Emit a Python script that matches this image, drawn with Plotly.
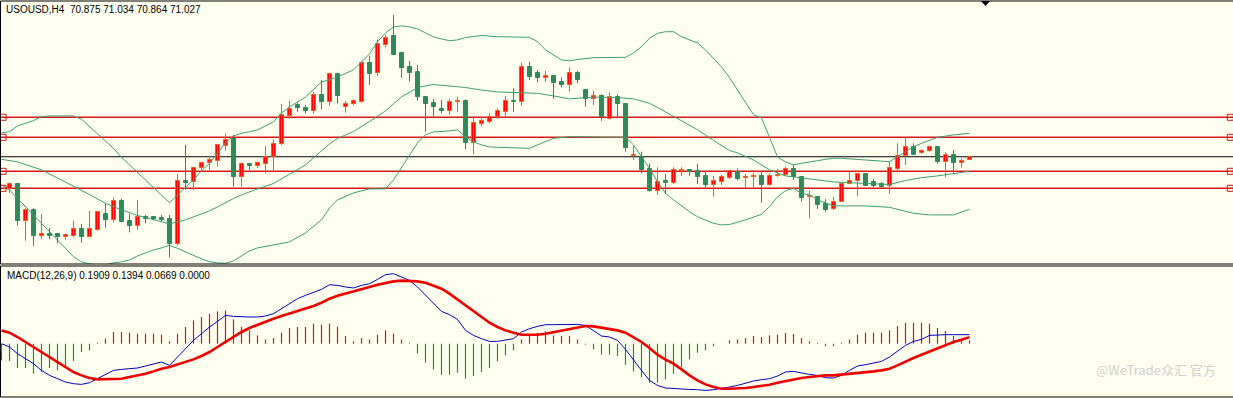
import plotly.graph_objects as go

# ---------------- data (USOUSD H4) ----------------
candle_open = [69.44, 69.67, 67.83, 68.37, 67.07, 67.17, 67.15, 67.03, 67.08, 67.40,
               67.03, 67.37, 68.15, 67.87, 68.80, 67.82, 67.58, 68.00, 68.03, 67.95,
               67.92, 66.67, 69.82, 69.78, 70.45, 70.70, 70.83, 71.58, 71.92, 70.03,
               70.65, 70.58, 70.68, 71.00, 71.65, 73.07, 73.62, 73.48, 73.33, 74.12,
               73.78, 75.17, 73.53, 73.65, 73.78, 75.70, 75.20, 76.62, 77.07, 76.23,
               75.52, 75.28, 74.03, 73.73, 73.42, 73.33, 73.75, 73.82, 71.70, 72.68,
               72.75, 73.00, 73.28, 73.83, 73.78, 75.50, 75.20, 74.98, 75.07, 74.78,
               74.62, 75.23, 74.37, 73.90, 74.08, 72.92, 74.03, 73.67, 71.07, 71.03,
               70.40, 69.33, 69.82, 69.73, 70.30, 70.37, 70.32, 70.08, 69.62, 69.78,
               69.95, 70.28, 69.97, 70.00, 70.07, 69.62, 70.07, 70.12, 70.40, 70.00,
               69.00, 69.03, 68.67, 68.40, 68.78, 69.67, 69.83, 70.17, 69.75, 69.67,
               69.58, 70.42, 71.08, 71.50, 71.20, 71.33, 71.50, 70.75, 71.12, 70.70,
               70.875]
candle_high = [69.74, 69.72, 68.45, 68.45, 68.17, 67.47, 67.20, 67.20, 67.83, 67.67,
               68.33, 68.33, 68.67, 69.00, 68.93, 68.17, 68.87, 68.12, 68.07, 68.12,
               68.12, 70.17, 71.62, 70.53, 70.78, 71.07, 71.67, 72.20, 72.12, 70.75,
               70.70, 70.78, 71.57, 71.90, 73.67, 73.82, 73.73, 73.62, 74.28, 74.87,
               75.23, 75.23, 73.83, 73.90, 75.82, 76.07, 76.90, 77.12, 78.12, 76.28,
               75.82, 75.62, 74.03, 73.92, 73.87, 73.92, 74.03, 73.90, 73.07, 73.02,
               73.20, 73.45, 74.07, 74.45, 75.73, 75.78, 75.37, 75.32, 75.07, 75.00,
               75.50, 75.32, 74.42, 74.32, 74.15, 74.25, 74.15, 73.67, 71.58, 71.28,
               70.70, 70.50, 70.17, 70.50, 70.50, 70.37, 70.67, 70.33, 70.08, 70.12,
               70.37, 70.45, 70.17, 70.23, 70.28, 70.20, 70.40, 70.53, 70.62, 70.03,
               69.33, 69.07, 68.90, 69.03, 69.73, 70.28, 70.23, 70.17, 69.92, 69.78,
               70.78, 71.70, 72.00, 71.70, 71.40, 71.58, 71.50, 71.25, 71.37, 70.95,
               71.034]
candle_low = [69.22, 67.58, 66.83, 66.57, 66.95, 66.90, 66.70, 66.87, 67.00, 66.73,
              67.00, 67.33, 67.48, 67.75, 67.75, 67.25, 67.37, 67.70, 67.87, 67.78,
              66.00, 66.60, 69.37, 69.37, 70.37, 70.37, 70.53, 71.33, 69.53, 69.53,
              70.37, 70.45, 70.20, 70.28, 71.62, 72.92, 73.28, 73.20, 73.17, 73.40,
              73.57, 73.70, 73.23, 73.60, 73.73, 74.62, 75.07, 76.50, 76.12, 74.98,
              74.78, 73.83, 72.28, 72.95, 73.20, 73.12, 73.28, 71.40, 71.15, 72.57,
              72.70, 72.92, 73.00, 73.28, 73.57, 74.87, 74.75, 74.78, 73.92, 74.50,
              74.28, 74.70, 73.53, 73.62, 72.83, 72.90, 73.00, 71.28, 70.87, 70.20,
              69.28, 69.12, 69.17, 69.67, 70.07, 70.07, 69.67, 69.50, 69.03, 69.62,
              69.92, 69.83, 69.45, 69.45, 68.73, 69.58, 70.03, 70.07, 69.87, 68.78,
              67.95, 68.42, 68.28, 68.37, 68.78, 69.65, 69.07, 69.58, 69.48, 69.48,
              69.17, 70.25, 70.62, 71.12, 71.17, 71.28, 70.67, 70.00, 70.23, 70.48,
              70.864]
candle_close = [69.67, 67.84, 68.37, 67.07, 67.17, 67.07, 67.03, 67.12, 67.40, 67.03,
                67.40, 68.27, 67.87, 68.80, 67.78, 67.58, 68.02, 67.92, 67.92, 67.87,
                66.67, 69.82, 69.73, 70.45, 70.72, 70.87, 71.62, 71.87, 70.03, 70.65,
                70.58, 70.72, 71.00, 71.67, 73.12, 73.42, 73.45, 73.33, 74.12, 73.78,
                75.17, 74.08, 73.67, 73.82, 75.70, 75.17, 76.65, 76.95, 76.12, 75.48,
                75.23, 74.03, 73.65, 73.50, 73.33, 73.75, 73.82, 71.70, 72.70, 72.82,
                73.00, 73.32, 73.82, 73.75, 75.50, 75.03, 74.95, 75.07, 74.73, 74.62,
                75.23, 74.87, 73.90, 74.08, 73.03, 74.03, 73.65, 71.48, 71.12, 70.37,
                69.33, 69.78, 69.73, 70.37, 70.37, 70.25, 70.03, 69.62, 69.82, 70.00,
                70.33, 69.92, 70.00, 70.07, 69.62, 70.07, 70.12, 70.40, 70.00, 68.98,
                69.07, 68.62, 68.37, 68.78, 69.67, 69.83, 70.17, 69.58, 69.58, 69.53,
                70.45, 71.08, 71.50, 71.12, 71.33, 71.50, 70.75, 71.12, 70.70, 70.83,
                71.027]

# Bollinger bands (read at the bars where they were legible)
bb_upper_x = [-1, 0, 1, 2, 3, 4, 5, 6, 7, 8, 9, 10, 11, 12, 13, 14, 15, 16, 17, 18, 19, 20,
              21, 22, 23, 24, 25, 26, 27, 28, 29, 30, 31, 33, 34, 35, 37, 39, 40, 41, 43, 44,
              45, 46, 47, 48, 49, 50, 51, 52, 53, 54, 55, 56, 57, 58, 59, 61, 63, 65, 66, 67,
              69, 70, 71, 73, 77, 78, 79, 80, 81, 82, 83, 84, 85, 86, 87, 88, 89, 90, 91, 92,
              93, 94, 95, 96, 97, 98, 99, 100, 101, 102, 103, 104, 106, 108, 110, 111, 112,
              113, 114, 115, 116, 118, 120]
bb_upper = [72.22, 72.28, 72.57, 72.70, 72.83, 73.03, 73.07, 73.07, 73.07, 73.07, 72.90, 72.53,
            72.20, 71.83, 71.45, 71.00, 70.62, 70.23, 69.87, 69.50, 69.12, 68.73, 69.12, 69.50,
            69.87, 70.33, 70.70, 71.20, 71.73, 72.07, 72.20, 72.28, 72.37, 72.77, 73.22, 73.52,
            74.02, 74.77, 74.87, 75.02, 75.37, 75.77, 76.17, 76.77, 77.22, 77.52, 77.57, 77.52,
            77.42, 77.22, 77.02, 76.92, 76.83, 76.87, 76.99, 77.04, 77.09, 77.03, 77.03, 77.00,
            76.78, 76.37, 75.87, 75.82, 75.89, 75.98, 76.00, 76.22, 76.53, 76.95, 77.20, 77.28,
            77.28, 77.03, 76.87, 76.72, 76.37, 75.97, 75.52, 74.99, 74.37, 73.72, 73.12, 72.97,
            72.02, 71.02, 70.77, 70.62, 70.70, 70.78, 70.83, 70.90, 70.95, 70.95, 70.90, 70.83,
            70.78, 71.03, 71.28, 71.53, 71.70, 71.87, 72.00, 72.12, 72.20]
bb_mid_x = [-1, 0, 1, 2, 3, 4, 5, 6, 7, 8, 9, 10, 11, 12, 13, 14, 15, 16, 17, 18, 19, 20,
            21, 22, 23, 24, 25, 26, 27, 28, 29, 30, 31, 33, 35, 37, 39, 40, 41, 43, 45, 47,
            49, 51, 53, 55, 57, 59, 61, 63, 65, 66, 68, 70, 73, 76, 78, 80, 82, 84, 86, 88,
            90, 91, 93, 95, 97, 99, 101, 103, 105, 107, 109, 110, 112, 114, 116, 118, 120]
bb_mid = [70.90, 70.84, 70.77, 70.64, 70.49, 70.37, 70.17, 69.97, 69.74, 69.54, 69.33, 69.14,
          68.92, 68.70, 68.53, 68.37, 68.22, 68.09, 67.99, 67.89, 67.79, 67.67, 67.77, 67.87,
          68.02, 68.17, 68.32, 68.52, 68.74, 68.94, 69.12, 69.29, 69.42, 69.69, 70.14, 70.62,
          71.32, 71.67, 71.94, 72.29, 72.79, 73.32, 74.02, 74.49, 74.64, 74.57, 74.49, 74.36,
          74.27, 74.24, 74.23, 74.20, 74.07, 73.92, 74.01, 73.99, 73.92, 73.70, 73.27, 72.82,
          72.38, 71.84, 71.34, 71.22, 70.87, 70.37, 70.07, 69.97, 69.87, 69.77, 69.73, 69.70,
          69.65, 69.64, 69.84, 69.98, 70.07, 70.17, 70.30]
bb_lower_x = [-1, 0, 1, 2, 3, 4, 5, 6, 7, 8, 9, 10, 11, 12, 13, 14, 15, 16, 17, 18, 19, 20,
              21, 22, 23, 24, 25, 26, 27, 28, 29, 30, 31, 33, 35, 37, 39, 40, 41, 43, 45, 46,
              47, 48, 49, 50, 51, 52, 53, 55, 56, 57, 58, 59, 60, 61, 65, 66, 68, 70, 73, 76,
              77, 78, 79, 80, 81, 82, 83, 84, 85, 86, 87, 88, 89, 90, 92, 94, 95, 96, 97, 98,
              99, 100, 101, 103, 105, 107, 110, 111, 113, 115, 118, 120]
bb_lower = [69.62, 69.37, 68.95, 68.53, 68.12, 67.70, 67.28, 66.87, 66.45, 66.03, 65.77, 65.67,
            65.62, 65.62, 65.72, 65.77, 65.87, 66.07, 66.22, 66.37, 66.47, 66.60, 66.45, 66.27,
            66.07, 65.92, 65.78, 65.72, 65.70, 65.82, 66.07, 66.32, 66.47, 66.62, 66.77, 67.22,
            67.87, 68.47, 68.87, 69.22, 69.42, 69.42, 69.42, 69.87, 70.47, 71.12, 71.72, 72.12,
            72.27, 72.32, 72.37, 72.02, 71.77, 71.62, 71.52, 71.50, 71.45, 71.62, 71.95, 72.03,
            72.03, 72.03, 72.00, 71.62, 71.03, 70.45, 69.78, 69.20, 68.87, 68.57, 68.28, 68.03,
            67.87, 67.70, 67.62, 67.64, 67.87, 68.15, 68.53, 69.03, 69.33, 69.45, 69.20, 69.12,
            68.87, 68.57, 68.57, 68.57, 68.50, 68.40, 68.20, 68.12, 68.12, 68.40]

# horizontal levels
level_lines = [73.00, 72.00, 70.30, 69.45]
bid_price = 71.027

# MACD(12,26,9) values for bars -1..120
macd_x = list(range(-1, 121))
macd_main = [0.000, -0.070, -0.212, -0.318, -0.424, -0.566, -0.672, -0.742, -0.812, -0.848,
             -0.863, -0.827, -0.742, -0.657, -0.566, -0.545, -0.530, -0.515, -0.473, -0.424,
             -0.388, -0.460, -0.282, -0.106, 0.070, 0.212, 0.354, 0.473, 0.600, 0.579,
             0.566, 0.566, 0.566, 0.587, 0.636, 0.742, 0.848, 0.954, 1.024, 1.081,
             1.151, 1.251, 1.236, 1.202, 1.181, 1.236, 1.272, 1.363, 1.463, 1.484,
             1.414, 1.342, 1.202, 1.024, 0.848, 0.685, 0.615, 0.515, 0.282, 0.176,
             0.106, 0.049, 0.049, 0.070, 0.106, 0.248, 0.318, 0.367, 0.403, 0.403,
             0.409, 0.409, 0.409, 0.388, 0.282, 0.163, 0.142, 0.070, -0.121, -0.354,
             -0.566, -0.778, -0.884, -0.939, -0.954, -0.969, -0.969, -0.975, -0.990, -0.975,
             -0.954, -0.918, -0.884, -0.833, -0.791, -0.763, -0.742, -0.685, -0.600, -0.587,
             -0.621, -0.651, -0.672, -0.721, -0.727, -0.672, -0.566, -0.473, -0.445, -0.409,
             -0.375, -0.282, -0.163, -0.036, 0.049, 0.091, 0.176, 0.191, 0.191, 0.191,
             0.191, 0.1909]
macd_signal = [0.282, 0.233, 0.142, 0.036, -0.070, -0.176, -0.282, -0.388, -0.494, -0.600,
               -0.672, -0.727, -0.757, -0.757, -0.757, -0.742, -0.706, -0.672, -0.636, -0.587,
               -0.530, -0.494, -0.445, -0.388, -0.333, -0.261, -0.176, -0.070, 0.036, 0.142,
               0.248, 0.333, 0.403, 0.473, 0.530, 0.587, 0.636, 0.685, 0.742, 0.799,
               0.869, 0.954, 1.018, 1.060, 1.109, 1.151, 1.202, 1.251, 1.293, 1.321,
               1.336, 1.336, 1.321, 1.293, 1.236, 1.166, 1.060, 0.939, 0.827, 0.706,
               0.566, 0.445, 0.354, 0.282, 0.233, 0.191, 0.191, 0.191, 0.212, 0.248,
               0.282, 0.318, 0.354, 0.375, 0.367, 0.339, 0.318, 0.282, 0.233, 0.142,
               0.036, -0.091, -0.233, -0.339, -0.424, -0.545, -0.672, -0.778, -0.863, -0.918,
               -0.954, -0.954, -0.954, -0.939, -0.918, -0.897, -0.869, -0.827, -0.791, -0.757,
               -0.727, -0.706, -0.685, -0.672, -0.672, -0.657, -0.636, -0.615, -0.600, -0.587,
               -0.566, -0.530, -0.460, -0.375, -0.303, -0.233, -0.163, -0.091, -0.021, 0.036,
               0.085, 0.1394]
macd_hist = [-0.354, -0.367, -0.515, -0.515, -0.636, -0.600, -0.515, -0.566, -0.473, -0.367,
             -0.176, -0.142, 0.021, 0.106, 0.248, 0.248, 0.233, 0.212, 0.212, 0.212,
             0.191, 0.049, 0.212, 0.354, 0.494, 0.566, 0.636, 0.685, 0.706, 0.515,
             0.354, 0.282, 0.176, 0.091, 0.121, 0.233, 0.333, 0.354, 0.354, 0.424,
             0.403, 0.424, 0.360, 0.163, 0.049, 0.121, 0.091, 0.191, 0.282, 0.212,
             0.091, 0.015, -0.212, -0.403, -0.545, -0.657, -0.657, -0.615, -0.742, -0.685,
             -0.600, -0.515, -0.375, -0.248, -0.142, 0.091, 0.176, 0.233, 0.261, 0.176,
             0.163, 0.163, 0.091, -0.021, -0.121, -0.233, -0.233, -0.261, -0.445, -0.587,
             -0.706, -0.827, -0.827, -0.757, -0.636, -0.494, -0.333, -0.191, -0.142, -0.057,
             0.000, 0.070, 0.091, 0.121, 0.163, 0.142, 0.176, 0.191, 0.227, 0.206,
             0.121, 0.049, 0.015, -0.057, -0.057, 0.021, 0.091, 0.191, 0.233, 0.233,
             0.233, 0.282, 0.375, 0.439, 0.445, 0.445, 0.424, 0.333, 0.269, 0.163,
             0.106, 0.0669]

title_text = "USOUSD,H4  70.875 71.034 70.864 71.027"
macd_text = "MACD(12,26,9) 0.1909 0.1394 0.0669 0.0000"
watermark_text = "@WeTrade众汇 官方"

# ---------------- styling / layout constants ----------------
W, H = 1233, 398
BG = "#FFFFF0"
UP_FILL, UP_LINE = "#FF0000", "#E8601C"
DN_FILL, DN_LINE = "#2E8B57", "#2E8B57"
BAND = "#3C9F70"
HIST_UP, HIST_DN = "#D81414", "#1E961E"

def py(p):  # pixel row -> paper fraction
    return 1 - p / H

main_dom = [py(264), py(1)]
macd_dom = [py(397), py(266)]
x_range = [-9.5 / 8, (W - 9.5) / 8]      # bar k centred on pixel column 9 + 8k
main_range = [65.665, 78.815]
macd_range = [-1.130, 1.647]

n = len(candle_close)
xs = list(range(n))
up = [i for i in xs if candle_close[i] >= candle_open[i]]
dn = [i for i in xs if candle_close[i] < candle_open[i]]

fig = go.Figure()

def wick_trace(idx, color):
    wx, wy = [], []
    for i in idx:
        wx += [i, i, None]
        wy += [candle_low[i], candle_high[i], None]
    return go.Scatter(x=wx, y=wy, mode="lines", line=dict(color=color, width=1),
                      hoverinfo="skip", showlegend=False, xaxis="x", yaxis="y")

def body_trace(idx, fill, line):
    return go.Bar(x=idx,
                  base=[min(candle_open[i], candle_close[i]) for i in idx],
                  y=[abs(candle_close[i] - candle_open[i]) for i in idx],
                  width=0.5, marker=dict(color=fill, line=dict(color=line, width=1)),
                  showlegend=False, xaxis="x", yaxis="y")

# Bollinger bands
for bx, by in [(bb_upper_x, bb_upper), (bb_mid_x, bb_mid), (bb_lower_x, bb_lower)]:
    fig.add_trace(go.Scatter(x=bx, y=by, mode="lines", line=dict(color=BAND, width=1),
                             showlegend=False, xaxis="x", yaxis="y"))

fig.add_trace(wick_trace(up, UP_LINE))
fig.add_trace(wick_trace(dn, DN_LINE))
fig.add_trace(body_trace(up, UP_FILL, UP_LINE))
fig.add_trace(body_trace(dn, DN_FILL, DN_LINE))

# level markers (small squares at both ends)
sq_x = [-0.8, 152.6]
for lv in level_lines:
    fig.add_trace(go.Scatter(x=sq_x, y=[lv, lv], mode="markers",
                             marker=dict(symbol="square-open", size=6, color="#D01818",
                                         line=dict(width=1)),
                             showlegend=False, xaxis="x", yaxis="y"))

# MACD histogram
hp_x, hp_y, hn_x, hn_y = [], [], [], []
for xv, hv in zip(macd_x, macd_hist):
    if hv >= 0:
        hp_x += [xv, xv, None]; hp_y += [0, hv, None]
    else:
        hn_x += [xv, xv, None]; hn_y += [0, hv, None]
fig.add_trace(go.Scatter(x=hp_x, y=hp_y, mode="lines", line=dict(color=HIST_UP, width=1.2),
                         showlegend=False, xaxis="x2", yaxis="y2"))
fig.add_trace(go.Scatter(x=hn_x, y=hn_y, mode="lines", line=dict(color=HIST_DN, width=1.2),
                         showlegend=False, xaxis="x2", yaxis="y2"))
fig.add_trace(go.Scatter(x=macd_x, y=macd_main, mode="lines", line=dict(color="#0000C0", width=1),
                         showlegend=False, xaxis="x2", yaxis="y2"))
fig.add_trace(go.Scatter(x=macd_x, y=macd_signal, mode="lines", line=dict(color="#EE0000", width=2.6),
                         showlegend=False, xaxis="x2", yaxis="y2"))

shapes = []
for lv in level_lines:
    shapes.append(dict(type="line", xref="paper", x0=0, x1=1, yref="y", y0=lv, y1=lv,
                       line=dict(color="#D81818", width=1.4), layer="below"))
shapes.append(dict(type="line", xref="paper", x0=0, x1=1, yref="y", y0=bid_price, y1=bid_price,
                   line=dict(color="#000000", width=1), layer="below"))
# panel frames
shapes.append(dict(type="rect", xref="paper", yref="paper", x0=0.5 / W, x1=1.01,
                   y0=py(264), y1=py(1), line=dict(color="#000000", width=1)))
shapes.append(dict(type="rect", xref="paper", yref="paper", x0=0.5 / W, x1=1.01,
                   y0=py(397), y1=py(266), line=dict(color="#000000", width=1)))
# shift marker triangle at top
shapes.append(dict(type="path", xref="paper", yref="paper",
                   path=f"M {981/W} {py(1)} L {990/W} {py(1)} L {985.5/W} {py(6)} Z",
                   fillcolor="#000000", line=dict(color="#000000", width=0)))

annotations = [
    dict(text=title_text, xref="paper", yref="paper", x=4 / W, y=py(9.5), xanchor="left",
         yanchor="middle", showarrow=False, font=dict(family="Liberation Sans", size=10, color="#000000")),
    dict(text=macd_text, xref="paper", yref="paper", x=5 / W, y=py(275.5), xanchor="left",
         yanchor="middle", showarrow=False, font=dict(family="Liberation Sans", size=10, color="#000000")),
    dict(text=watermark_text, xref="paper", yref="paper", x=1218 / W, y=py(369), xanchor="right",
         yanchor="middle", showarrow=False,
         font=dict(family="Noto Sans CJK SC", size=13, color="#CFCFCF")),
]

ax_common = dict(visible=False, showgrid=False, zeroline=False, fixedrange=True)
fig.update_layout(
    width=W, height=H, margin=dict(l=0, r=0, t=0, b=0),
    paper_bgcolor=BG, plot_bgcolor=BG, barmode="overlay", bargap=0,
    showlegend=False, hovermode=False,
    xaxis=dict(domain=[0, 1], range=x_range, anchor="y", **ax_common),
    yaxis=dict(domain=main_dom, range=main_range, anchor="x", **ax_common),
    xaxis2=dict(domain=[0, 1], range=x_range, anchor="y2", **ax_common),
    yaxis2=dict(domain=macd_dom, range=macd_range, anchor="x2", **ax_common),
    shapes=shapes, annotations=annotations,
)

fig.write_html("out.html", config={"displayModeBar": False},
               post_script="document.body.style.margin='0';document.body.style.background='#FFFFF0';")
